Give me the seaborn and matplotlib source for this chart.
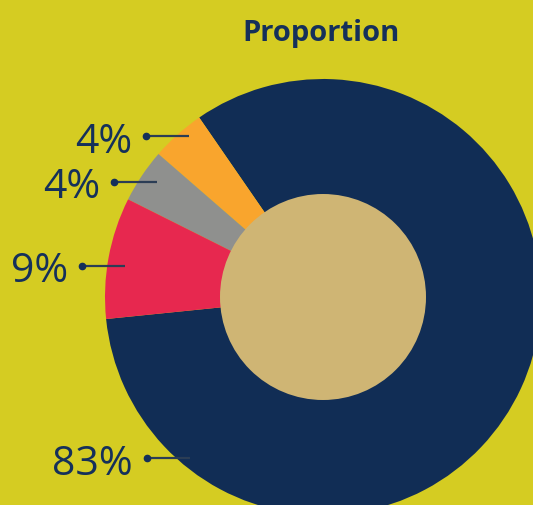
import numpy as np
import matplotlib
matplotlib.use("Agg")
import matplotlib.pyplot as plt
from matplotlib.patches import Circle
import seaborn as sns

# ---- data ----
categories = ["Main", "Orange", "Gray", "Red"]
values = [83, 4, 4, 9]
labels = ["83%", "4%", "4%", "9%"]
colors = ["#112d55", "#f9a52d", "#8f908e", "#e7284f"]

BG = "#d5cc22"
TAN = "#cfb574"
TEXT = "#15305a"

sns.set_style("white")
plt.rcParams["font.family"] = ["Open Sans", "DejaVu Sans"]

W, H = 533, 506
fig = plt.figure(figsize=(W / 100, H / 100), dpi=100)
fig.patch.set_facecolor(BG)
ax = fig.add_axes([0, 0, 1, 1])
ax.set_facecolor(BG)

cx, cy = 323, H - 298
R_out, R_in = 218, 103
start = 185.8

wedges, _ = ax.pie(values, colors=colors, startangle=start, counterclock=True,
                   radius=R_out, center=(cx, cy), frame=True,
                   wedgeprops=dict(linewidth=0))
ax.add_patch(Circle((cx, cy), R_in, facecolor=TAN, edgecolor="none", zorder=5))

# leader-line anchor placement (layout): angle shift from wedge middle, radius fraction
angle_override = {0: 230.5}
angle_shift = {1: -1.9, 2: -0.9, 3: 1.5}
rad_frac = {0: 0.96, 1: 0.96, 2: 0.927, 3: 0.92}
for i, w in enumerate(wedges):
    mid = (w.theta1 + w.theta2) / 2
    ang = np.deg2rad(angle_override.get(i, mid + angle_shift.get(i, 0)))
    r = rad_frac[i] * R_out
    ex, ey = cx + r * np.cos(ang), cy + r * np.sin(ang)
    sx = ex - 43
    ax.plot([sx, ex], [ey, ey], color="#2b3d55", lw=1.6, zorder=6,
            solid_capstyle="butt")
    ax.plot([sx], [ey], "o", color=TEXT, ms=4.5, zorder=7)
    ax.text(sx - 14, ey - 5, labels[i], ha="right", va="center",
            fontsize=29.5, color=TEXT, zorder=8)

ax.text(321.5, H - 33, "Proportion", ha="center", va="center",
        fontsize=21, fontweight="bold", color=TEXT)

ax.set_xlim(0, W)
ax.set_ylim(0, H)
ax.set_aspect("equal")
ax.axis("off")

fig.savefig("out.png", dpi=100, facecolor=BG)
